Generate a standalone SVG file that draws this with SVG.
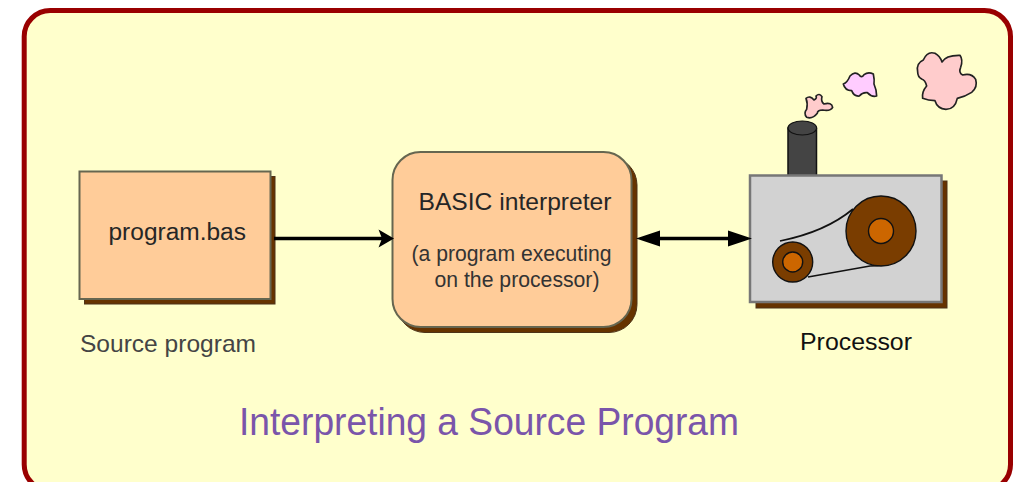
<svg xmlns="http://www.w3.org/2000/svg" width="1025" height="482" viewBox="0 0 1025 482">
<style>
text{font-family:"Liberation Sans",Arial,sans-serif;fill:#262626}
.box{fill:#ffcc99;stroke:#666650;stroke-width:2}
.sh{fill:#663300;stroke:#4d3318;stroke-width:1}
.wire{stroke:#000;stroke-width:3.6;fill:none}
.head{fill:#000}
.cl{stroke:#222;stroke-width:5;stroke-linejoin:round}
.wh{stroke:#111;stroke-width:1.4}
</style>
<rect id="frame" x="24.200" y="10.500" width="986.300" height="480" rx="26" fill="#ffffcc" stroke="#990000" stroke-width="5"/>
<g id="source-program">
<rect class="sh" x="84.500" y="176.500" width="190.500" height="127.500"/>
<rect class="box" x="79.500" y="171.500" width="191" height="127.500"/>
<text x="108.500" y="240" font-size="23.500" textLength="137.500" lengthAdjust="spacingAndGlyphs">program.bas</text>
<text x="80" y="352" font-size="24" textLength="176" lengthAdjust="spacingAndGlyphs" style="fill:#444">Source program</text>
</g>
<g id="interpreter">
<rect class="sh" x="397" y="157" width="240" height="175.500" rx="28"/>
<rect class="box" x="392.500" y="152" width="239" height="175" rx="28"/>
<text x="418.500" y="210" font-size="24" textLength="193" lengthAdjust="spacingAndGlyphs">BASIC interpreter</text>
<text x="411.500" y="261" font-size="22" textLength="200" lengthAdjust="spacingAndGlyphs" style="fill:#333">(a program executing</text>
<text x="434.500" y="287" font-size="22" textLength="165" lengthAdjust="spacingAndGlyphs" style="fill:#333">on the processor)</text>
</g>
<g id="processor">
<path d="M788 176V128A14.500 7 0 0 1 816.500 128V176Z" fill="#444" stroke="#111" stroke-width="1.500"/>
<ellipse cx="802.300" cy="128" rx="14.300" ry="7" fill="#444" stroke="#111" stroke-width="1.200"/>
<rect class="sh" x="756" y="181" width="191" height="127"/>
<rect x="750" y="175.500" width="191.500" height="126.500" fill="#d2d2d2" stroke="#777" stroke-width="2.500"/>
<path d="M780 241C810 235 835 224 853 209M808 277L870 266Q885 266 896 261" fill="none" stroke="#111" stroke-width="1.700"/>
<circle class="wh" cx="881" cy="231" r="35" fill="#7a3d00"/>
<circle class="wh" cx="881" cy="231" r="12.500" fill="#cc6600"/>
<circle class="wh" cx="792.700" cy="262" r="20" fill="#7a3d00"/>
<circle class="wh" cx="792.700" cy="262" r="10" fill="#cc6600"/>
<g transform="translate(740 30) scale(.3333)">
<path class="cl" fill="#ffcccc" d="M198 205Q210 195 222 210Q232 205 228 198Q238 188 246 200Q242 215 252 222Q275 216 278 232Q272 244 248 240Q232 240 232 250Q218 268 200 262Q190 250 200 238Q204 220 198 205Z"/>
<path class="cl" fill="#ffccff" d="M310 162Q322 158 330 138Q345 122 358 135Q364 145 372 134Q385 124 400 132Q404 150 402 162Q410 180 410 198Q395 202 382 188Q368 186 358 198Q342 200 335 182Q315 182 310 162Z"/>
<path class="cl" fill="#ffcccc" d="M533 125Q528 100 550 90Q562 62 585 70Q600 78 606 96Q618 75 660 76Q670 90 662 112Q655 128 668 135Q695 128 707 148Q714 172 695 187Q675 200 652 205Q645 238 618 238Q592 236 585 212Q565 212 548 205Q545 185 560 168Q556 150 545 147Q533 140 533 125Z"/>
</g>
<text x="800" y="350" font-size="23.500" textLength="112" lengthAdjust="spacingAndGlyphs" style="fill:#111">Processor</text>
</g>
<g id="connectors">
<path class="wire" d="M274 238.500H385"/>
<path class="head" d="M394 238.500L378.500 229.500L382 238.500L378.500 247.500Z"/>
<path class="wire" d="M650 238.500H740"/>
<path class="head" d="M636 238.500L660 230.500V246.500Z"/>
<path class="head" d="M752 238.500L728 230.500V246.500Z"/>
</g>
<text id="title" x="239" y="435" font-size="38" textLength="500" lengthAdjust="spacingAndGlyphs" style="fill:#7a55aa">Interpreting a Source Program</text>
</svg>
